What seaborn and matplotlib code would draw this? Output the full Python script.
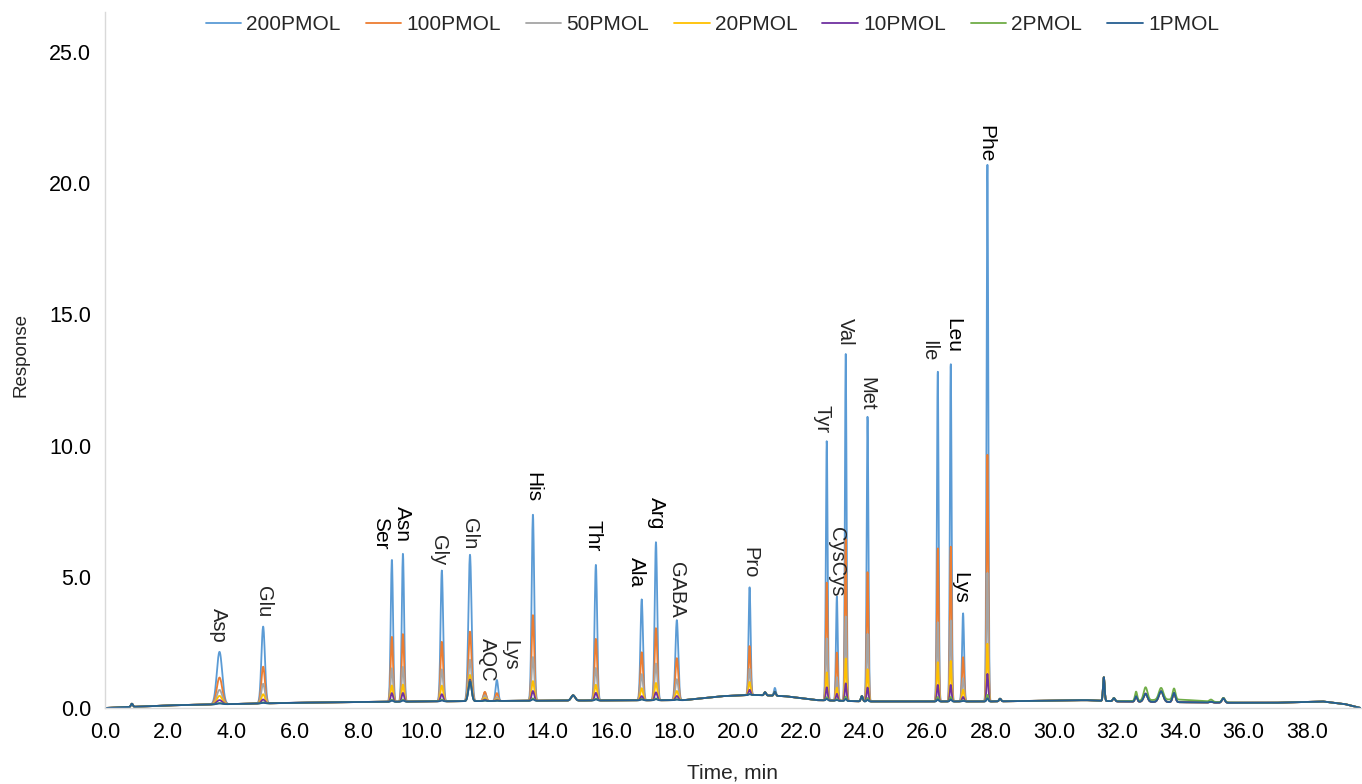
import numpy as np
import pandas as pd
import matplotlib
matplotlib.use("Agg")
import matplotlib.pyplot as plt
import seaborn as sns

# ---------------- data ----------------
series_names = ["200PMOL", "100PMOL", "50PMOL", "20PMOL", "10PMOL", "2PMOL", "1PMOL"]
series_colors = ["#5B9BD5", "#ED7D31", "#A5A5A5", "#FFC000", "#7030A0", "#70AD47", "#255E91"]

# peak retention times (min) and peak widths (sigma, min)
peak_times = [0.85, 3.62, 5.00, 9.07, 9.42, 10.65, 11.54, 12.01, 12.39, 13.53, 14.80,
              15.52, 16.97, 17.42, 18.08, 20.38, 20.87, 21.18, 22.82, 23.14, 23.42,
              23.93, 24.11, 26.33, 26.74, 27.13, 27.90, 28.30, 31.58, 31.90, 32.60,
              32.90, 33.39, 33.80, 34.97, 35.36, 33.80]
peak_sigmas = [0.03, 0.085, 0.055, 0.036, 0.036, 0.040, 0.050, 0.045, 0.040, 0.040, 0.06,
               0.040, 0.040, 0.040, 0.045, 0.032, 0.03, 0.03, 0.028, 0.028, 0.026,
               0.03, 0.028, 0.027, 0.027, 0.032, 0.027, 0.03, 0.025, 0.035, 0.035,
               0.06, 0.07, 0.045, 0.05, 0.045, 0.80]

# peak heights above baseline for each series (same order as peak_times)
h_200 = [0.12, 2.00, 2.93, 5.42, 5.65, 4.99, 5.58, 0.33, 0.80, 7.11, 0.20,
         5.17, 3.85, 6.03, 3.05, 4.12, 0.12, 0.30, 9.90, 3.98, 13.22,
         0.20, 10.86, 12.60, 12.90, 3.37, 20.45, 0.10, 0.90, 0.12, 0.20,
         0.30, 0.40, 0.35, 0.03, 0.17, 0.00]
h_100 = [0.12, 1.02, 1.40, 2.48, 2.58, 2.27, 2.65, 0.35, 0.30, 3.27, 0.20,
         2.35, 1.83, 2.75, 1.60, 1.87, 0.12, 0.15, 4.50, 1.84, 6.17,
         0.20, 4.93, 5.85, 5.92, 1.69, 9.40, 0.10, 0.90, 0.12, 0.20,
         0.30, 0.40, 0.35, 0.03, 0.17, 0.00]
h_50 = [0.12, 0.55, 0.75, 1.28, 1.33, 1.22, 1.58, 0.22, 0.15, 1.67, 0.20,
        1.24, 1.00, 1.40, 0.80, 1.00, 0.12, 0.15, 2.37, 0.90, 3.22,
        0.20, 2.58, 3.03, 3.10, 0.89, 4.90, 0.10, 0.90, 0.12, 0.20,
        0.30, 0.40, 0.35, 0.03, 0.17, 0.00]
h_20 = [0.12, 0.32, 0.35, 0.62, 0.65, 0.60, 1.00, 0.12, 0.07, 0.75, 0.20,
        0.60, 0.46, 0.66, 0.35, 0.50, 0.12, 0.15, 1.07, 0.50, 1.62,
        0.20, 1.23, 1.50, 1.55, 0.45, 2.20, 0.10, 0.90, 0.12, 0.20,
        0.30, 0.40, 0.35, 0.03, 0.17, 0.00]
h_10 = [0.12, 0.16, 0.15, 0.33, 0.33, 0.27, 0.82, 0.06, 0.03, 0.37, 0.20,
        0.29, 0.16, 0.30, 0.16, 0.20, 0.12, 0.15, 0.50, 0.26, 0.67,
        0.20, 0.53, 0.63, 0.63, 0.17, 1.05, 0.10, 0.90, 0.12, 0.22,
        0.32, 0.42, 0.36, 0.03, 0.17, 0.00]
h_2 = [0.12, 0.05, 0.04, 0.08, 0.08, 0.07, 0.76, 0.02, 0.01, 0.09, 0.20,
       0.07, 0.05, 0.07, 0.04, 0.05, 0.12, 0.15, 0.12, 0.06, 0.16,
       0.20, 0.13, 0.17, 0.17, 0.04, 0.25, 0.10, 0.90, 0.12, 0.35,
       0.50, 0.45, 0.42, 0.08, 0.17, 0.10]
h_1 = [0.12, 0.03, 0.02, 0.04, 0.04, 0.03, 0.75, 0.02, 0.01, 0.05, 0.20,
       0.04, 0.03, 0.04, 0.02, 0.03, 0.12, 0.15, 0.06, 0.03, 0.08,
       0.20, 0.06, 0.08, 0.08, 0.02, 0.12, 0.10, 0.90, 0.12, 0.20,
       0.30, 0.40, 0.35, 0.03, 0.17, 0.00]
series_heights = [h_200, h_100, h_50, h_20, h_10, h_2, h_1]

# baseline (drift) read at a few times
base_t = [0.0, 2.0, 4.0, 6.0, 10.0, 14.0, 18.3, 19.5, 20.5, 21.5, 22.5, 24.0, 28.0,
          30.0, 31.0, 32.0, 35.5, 37.0, 38.5, 39.2, 39.7]
base_y = [0.00, 0.10, 0.15, 0.20, 0.25, 0.28, 0.30, 0.45, 0.50, 0.45, 0.30, 0.25, 0.25,
          0.28, 0.30, 0.25, 0.20, 0.20, 0.25, 0.15, 0.00]

# peak annotations: name, time, top of text (response units), emphasised?
label_names = ["Asp", "Glu", "Ser", "Asn", "Gly", "Gln", "AQC", "Lys", "His", "Thr", "Ala",
               "Arg", "GABA", "Pro", "Tyr", "CysCys", "Val", "Met", "Ile", "Leu", "Lys", "Phe"]
label_x = [3.60, 5.00, 8.70, 9.42, 10.53, 11.51, 12.08, 12.80, 13.53, 15.43, 16.79,
           17.42, 18.08, 20.39, 22.67, 23.14, 23.40, 24.09, 26.05, 26.81, 27.03, 27.85]
label_y = [3.81, 4.65, 7.28, 7.70, 6.59, 7.24, 2.67, 2.59, 8.99, 7.16, 5.75,
           8.04, 5.56, 6.14, 11.55, 6.90, 14.86, 12.61, 14.02, 14.86, 5.18, 22.22]
label_bold = [False, False, True, True, False, False, False, False, True, True, True,
              True, False, False, False, False, False, False, False, True, True, True]

# ---------------- build long-form frame ----------------
t = np.linspace(0.0, 39.7, 6000)
base = np.interp(t, base_t, base_y)
frames = []
for name, heights in zip(series_names, series_heights):
    y = base.copy()
    for pt, sg, h in zip(peak_times, peak_sigmas, heights):
        y = y + h * np.exp(-0.5 * ((t - pt) / sg) ** 2)
    frames.append(pd.DataFrame({"Time, min": t, "Response": y, "series": name}))
df = pd.concat(frames, ignore_index=True)

# ---------------- plot ----------------
sns.set_theme(style="white")
plt.rcParams["font.family"] = ["Liberation Sans", "DejaVu Sans"]

fig = plt.figure(figsize=(13.62, 7.84), dpi=100)
ax = fig.add_axes([105 / 1362, 1 - 708 / 784, 1 - 105 / 1362 - 0.001, (708 - 12) / 784])

sns.lineplot(data=df, x="Time, min", y="Response", hue="series", hue_order=series_names,
             palette=dict(zip(series_names, series_colors)), estimator=None, sort=False,
             linewidth=1.3, ax=ax, legend=True)

ax.set_xlim(0, 39.7)
ax.set_ylim(0, 26.52)
ax.set_xticks(np.arange(0, 39, 2))
ax.set_xticklabels([f"{v:.1f}" for v in np.arange(0, 39, 2)])
ax.set_yticks(np.arange(0, 26, 5))
ax.set_yticklabels([f"{v:.1f}" for v in np.arange(0, 26, 5)])
ax.tick_params(axis="both", labelsize=15.5, colors="#d9d9d9", labelcolor="black",
               length=6, width=1, direction="out", pad=4)
for s in ["top", "right"]:
    ax.spines[s].set_visible(False)
for s in ["left", "bottom"]:
    ax.spines[s].set_color("#d9d9d9")
    ax.spines[s].set_linewidth(1)

ax.set_xlabel("Time, min", fontsize=15)
ax.set_ylabel("Response", fontsize=13.5)
ax.xaxis.set_label_coords((733 - 105) / 1257, (708 - 773) / 696)
ax.yaxis.set_label_coords((21 - 105) / 1257, (708 - 355) / 696)
ax.xaxis.label.set_va("center")
ax.yaxis.label.set_va("center")

for name, lx, ly, b in zip(label_names, label_x, label_y, label_bold):
    ax.text(lx, ly, name, rotation=270, ha="center", va="top",
            fontsize=15 if b else 14.5, color="black" if b else "#262626")

handles, labels = ax.get_legend_handles_labels()
ax.legend(handles, labels, loc="upper center", bbox_to_anchor=(0.523, 1.005),
          bbox_transform=fig.transFigure, ncol=7, frameon=False, fontsize=15,
          handlelength=1.7, handletextpad=0.25, columnspacing=1.2)

fig.savefig("out.png", dpi=100)
